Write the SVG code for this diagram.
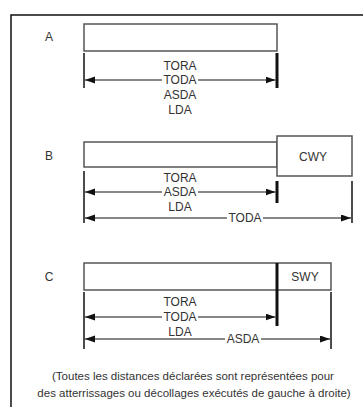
<svg xmlns="http://www.w3.org/2000/svg" width="363" height="407" viewBox="0 0 363 407">
<style>
text{font-family:"Liberation Sans",Arial,sans-serif;fill:#333;text-anchor:middle;dominant-baseline:central}
.lbl{font-size:12px}
.dim{font-size:12px}
.cap{font-size:11.5px}
.gap{fill:#fff}
.box{fill:#fff;stroke:#555;stroke-width:1.5}
.tick{stroke:#111;stroke-width:1.5}
.thick{stroke:#111;stroke-width:3}
.arr{stroke:#111;stroke-width:1.2;marker-start:url(#ah);marker-end:url(#ah)}
</style>
<defs>
<marker id="ah" markerUnits="userSpaceOnUse" markerWidth="11" markerHeight="8" refX="10" refY="3.5" orient="auto-start-reverse" viewBox="0 0 11 8">
<path d="M0,0 L10,3.5 L0,7 Z" fill="#111"/>
</marker>
</defs>
<g id="frame"><path d="M11,407 V15 H363" fill="none" stroke="#111" stroke-width="1.5"/></g>
<g id="A">
<text class="lbl" x="49" y="37">A</text>
<rect class="box" x="84" y="24" width="193" height="27"/>
</g>
<g id="B">
<text class="lbl" x="49" y="156">B</text>
<rect class="box" x="84" y="142" width="193" height="25"/>
<rect id="CWY" class="box" x="277" y="136" width="75" height="40"/>
<text class="lbl" x="313" y="157">CWY</text>
</g>
<g id="C">
<text class="lbl" x="49" y="277">C</text>
<rect class="box" x="84" y="263" width="247" height="27"/>
<line class="thick" x1="277" y1="263" x2="277" y2="290"/>
<text class="lbl" x="305" y="277">SWY</text>
</g>
<g id="connectors">
<line class="tick" x1="84" y1="53" x2="84" y2="88"/>
<line class="thick" x1="277" y1="53" x2="277" y2="88"/>
<line class="arr" x1="85" y1="80" x2="275.5" y2="80"/>
<line class="tick" x1="84" y1="171" x2="84" y2="223"/>
<line class="thick" x1="277" y1="181" x2="277" y2="203"/>
<line class="tick" x1="352" y1="181" x2="352" y2="223"/>
<line class="arr" x1="85" y1="192" x2="275.5" y2="192"/>
<line class="arr" x1="85" y1="218" x2="351" y2="218"/>
<line class="tick" x1="84" y1="292" x2="84" y2="349"/>
<line class="thick" x1="277" y1="290" x2="277" y2="326"/>
<line class="tick" x1="331" y1="292" x2="331" y2="349"/>
<line class="arr" x1="85" y1="317" x2="275.5" y2="317"/>
<line class="arr" x1="85" y1="339" x2="330" y2="339"/>
<rect class="gap" x="162" y="76" width="36" height="8"/>
<rect class="gap" x="162" y="188" width="36" height="8"/>
<rect class="gap" x="227" y="214" width="36" height="8"/>
<rect class="gap" x="162" y="313" width="36" height="8"/>
<rect class="gap" x="225" y="335" width="36" height="8"/>
</g>
<g id="labelsA">
<text class="dim" x="180" y="66">TORA</text>
<text class="dim" x="180" y="80">TODA</text>
<text class="dim" x="180" y="95">ASDA</text>
<text class="dim" x="180" y="110">LDA</text>
</g>
<g id="labelsB">
<text class="dim" x="180" y="178">TORA</text>
<text class="dim" x="180" y="192">ASDA</text>
<text class="dim" x="180" y="207">LDA</text>
<text class="dim" x="245" y="218">TODA</text>
</g>
<g id="labelsC">
<text class="dim" x="180" y="302">TORA</text>
<text class="dim" x="180" y="317">TODA</text>
<text class="dim" x="180" y="332">LDA</text>
<text class="dim" x="243" y="339">ASDA</text>
</g>
<g id="caption">
<text class="cap" x="193" y="376">(Toutes les distances déclarées sont représentées pour</text>
<text class="cap" x="194" y="393">des atterrissages ou décollages exécutés de gauche à droite)</text>
</g>
</svg>
